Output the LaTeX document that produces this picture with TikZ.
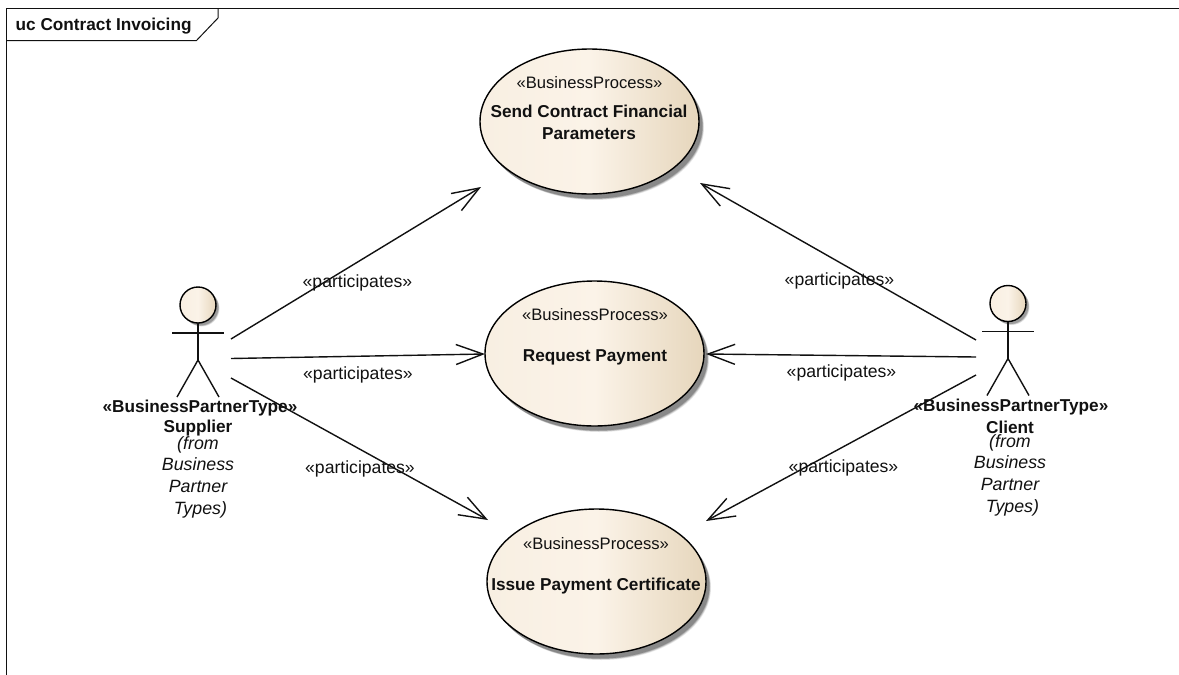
\documentclass[tikz,border=0pt]{standalone}
\usepackage{fontspec}
\setmainfont{Liberation Sans}
\usetikzlibrary{arrows.meta}
\definecolor{fillL}{HTML}{F8EFE2}
\definecolor{fillM}{HTML}{FBF3E8}
\definecolor{fillR}{HTML}{E6D6BC}
\definecolor{ink}{HTML}{111111}
\tikzset{
  x=1pt,y=-1pt,
  frameline/.style={draw=ink,line width=1pt},
  conn/.style={draw=ink,line width=1.4pt,-{Straight Barb[length=27pt,width=20pt,line width=1.4pt]}},
  stick/.style={draw=ink,line width=1.4pt},
  stereo/.style={font=\fontsize{16.6}{19}\selectfont,text=ink,inner sep=0pt,align=center},
  ptitle/.style={font=\fontsize{17.2}{22}\bfseries\selectfont,text=ink,inner sep=0pt,align=center},
  lbl/.style={font=\fontsize{17.6}{20}\selectfont,text=ink,inner sep=0pt},
  abold/.style={font=\fontsize{17.2}{20}\bfseries\selectfont,text=ink,inner sep=0pt},
  afrom/.style={font=\fontsize{17.8}{21.7}\itshape\selectfont,text=ink,inner sep=0pt,align=center},
}
\newcommand{\ucbubble}[5]{% name cx cy rx ry
  \foreach \g/\o in {4/0.08,3/0.12,2/0.16,1/0.2}
    \fill[black,opacity=\o] (#2+3+\g*0.5,#3+4+\g*0.5) ellipse [x radius=#4,y radius=#5];
  \path[left color=fillL,right color=fillR,middle color=fillM,draw=black,line width=1.4pt]
    (#2,#3) ellipse [x radius=#4,y radius=#5];
  \coordinate (#1) at (#2,#3);
}
\newcommand{\actorfig}[3]{% name cx headcy
  \foreach \g/\o in {3/0.1,2/0.15,1/0.2}
    \fill[black,opacity=\o] (#2+2+\g*0.5,#3+2+\g*0.5) circle [radius=18];
  \path[left color=fillL,right color=fillR,middle color=fillM,draw=black,line width=1.4pt]
    (#2,#3) circle [radius=18];
  \coordinate (#1) at (#2,#3);
  \draw[stick] (#2-26,#3+28) -- (#2+26,#3+28);
  \draw[stick] (#2,#3+18) -- (#2,#3+55);
  \draw[stick] (#2-21,#3+92) -- (#2,#3+55) -- (#2+21,#3+92);
}
\begin{document}
\begin{tikzpicture}
\useasboundingbox (0,0) rectangle (1179,675);
\fill[white] (0,0) rectangle (1179,675);
% frame
\draw[frameline] (6.5,675) -- (6.5,8.5) -- (1179,8.5);
\draw[frameline] (6.5,40.5) -- (196.5,40.5) -- (218,18) -- (218,8.5);
\node[abold,anchor=west] (title) at (15.5,26) {uc Contract Invoicing};
% use cases
\ucbubble{uca}{589.5}{121.5}{109.5}{72.5}
\ucbubble{ucb}{594.5}{353.5}{109.5}{72.5}
\ucbubble{ucc}{596.5}{581.5}{109.5}{72.5}
\node[stereo] (sa) at (589.5,83) {«BusinessProcess»};
\node[ptitle] (ta) at (589,122) {Send Contract Financial\\Parameters};
\node[stereo] (sb) at (595,314.5) {«BusinessProcess»};
\node[ptitle] (tb) at (595,357) {Request Payment};
\node[stereo] (sc) at (596,543.5) {«BusinessProcess»};
\node[ptitle] (tc) at (596,586) {Issue Payment Certificate};
% actors
\actorfig{sup}{198}{305}
\actorfig{cli}{1008}{303.5}
\node[abold] (sn) at (200,408) {«BusinessPartnerType»};
\node[abold] (snn) at (198,428) {Supplier};
\node[afrom,anchor=north] (sf) at (198,436) {(from\\Business\\Partner\\\ Types)};
\node[abold] (cn) at (1011,407) {«BusinessPartnerType»};
\node[abold] (cnn) at (1010,427) {Client};
\node[afrom,anchor=north] (cf) at (1010,434) {(from\\Business\\Partner\\\ Types)};
% connector ends
\coordinate (s1) at (231,339); \coordinate (s2) at (231,358.5); \coordinate (s3) at (231,378);
\coordinate (c1) at (976,340); \coordinate (c2) at (976,357); \coordinate (c3) at (976,375);
\coordinate (a1) at (481,187); \coordinate (a2) at (700,183);
\coordinate (b1) at (485,354); \coordinate (b2) at (706,354);
\coordinate (d1) at (488,520); \coordinate (d2) at (706,521);
\draw[conn] (s1) -- (a1);
\draw[conn] (s2) -- (b1);
\draw[conn] (s3) -- (d1);
\draw[conn] (c1) -- (a2);
\draw[conn] (c2) -- (b2);
\draw[conn] (c3) -- (d2);
% labels
\node[lbl] (l1) at (357.5,283) {«participates»};
\node[lbl] (l2) at (358,375) {«participates»};
\node[lbl] (l3) at (360,469) {«participates»};
\node[lbl] (l4) at (839.5,281) {«participates»};
\node[lbl] (l5) at (841.5,373) {«participates»};
\node[lbl] (l6) at (843.5,468) {«participates»};
\end{tikzpicture}
\end{document}
